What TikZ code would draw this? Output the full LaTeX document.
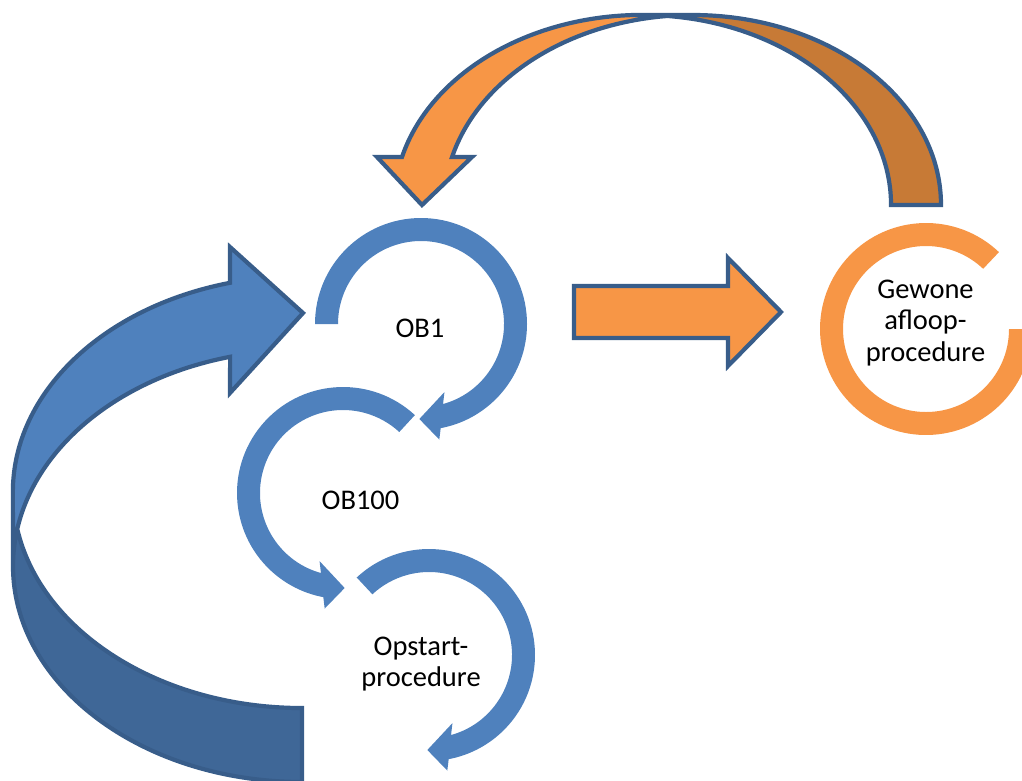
\documentclass[tikz,border=0pt]{standalone}
\usepackage{fontspec}
\setmainfont{Carlito}
\definecolor{cycleblue}{HTML}{4F81BD}
\definecolor{backblue}{HTML}{3F6797}
\definecolor{floworange}{HTML}{F79646}
\definecolor{backorange}{HTML}{C77A36}
\definecolor{rim}{HTML}{385D8A}
\tikzset{
  ring/.style={fill=cycleblue},
  loopring/.style={fill=floworange},
  rimline/.style={draw=rim, line width=4.2pt, line join=miter, miter limit=8},
  caption/.style={font=\fontsize{28.5}{31.5}\selectfont, align=center, inner sep=0pt, text=black}
}
\begin{document}
\begin{tikzpicture}[x=1pt, y=-1pt]
\useasboundingbox (0,0) rectangle (1022,780);
\clip (0,0) rectangle (1022,780);

% centres of the cycle rings
\coordinate (c-ob1) at (421,324);
\coordinate (c-ob100) at (343,493);
\coordinate (c-start) at (429,655);
\coordinate (c-run) at (926,329);

% OB1: clockwise ring from the left, head at the bottom
\fill[ring, shift={(c-ob1)}] (180:106) arc[start angle=180, end angle=439.3, radius=106]
  -- (441:117) -- (451:95) -- (431:72) -- (434.6:83)
  arc[start angle=434.6, end angle=180, radius=83] -- cycle;

% OB100: anticlockwise ring, head at the bottom
\fill[ring, shift={(c-ob100)}] (-47.3:106) arc[start angle=-47.3, end angle=-259.3, radius=106]
  -- (-261:117) -- (-271:95) -- (-251:72) -- (-254.6:83)
  arc[start angle=-254.6, end angle=-47.3, radius=83] -- cycle;

% start-up ring: clockwise, head at the bottom
\fill[ring, shift={(c-start)}] (227:106) arc[start angle=227, end angle=439.3, radius=106]
  -- (441:117) -- (451:95) -- (431:72) -- (434.6:83)
  arc[start angle=434.6, end angle=227, radius=83] -- cycle;

% normal run ring (orange)
\fill[loopring, shift={(c-run)}] (-46.5:106) arc[start angle=-46.5, end angle=-360, radius=106]
  -- (0:83) arc[start angle=-360, end angle=-46.5, radius=83] -- cycle;

% straight arrow OB1 -> normal run
\path[fill=floworange, rimline] (574,286) -- (728,286) -- (728,258) -- (781,312)
  -- (728,366) -- (728,338) -- (574,338) -- cycle;

% curved return arrow over the top (front face, back face, outline)
\fill[floworange] (692.5,15) arc[start angle=270, end angle=194.6, x radius=248.5, y radius=190]
  -- (472,157) -- (422,205) -- (377,157) -- (402,157)
  arc[start angle=194.6, end angle=270, x radius=248.5, y radius=190] -- cycle;
\fill[backorange] (891,205) arc[start angle=360, end angle=275.77, x radius=248.5, y radius=190]
  arc[start angle=264.23, end angle=360, x radius=248.5, y radius=190] -- cycle;
\draw[rimline] (667.5,15.96) arc[start angle=275.77, end angle=360, x radius=248.5, y radius=190]
  -- (941,205) arc[start angle=0, end angle=-165.4, x radius=248.5, y radius=190]
  -- (472,157) -- (422,205) -- (377,157) -- (402,157)
  arc[start angle=194.6, end angle=270, x radius=248.5, y radius=190] -- (692.5,15);

% big curved arrow on the left (front face, back face, outline)
\fill[cycleblue] (13,492) arc[start angle=180, end angle=255.6, x radius=289, y radius=216]
  -- (230,247) -- (303,313) -- (230,393) -- (230,356.8)
  arc[start angle=255.6, end angle=180, x radius=289, y radius=216] -- cycle;
\fill[backblue] (17.27,529) arc[start angle=189.86, end angle=90, x radius=289, y radius=216]
  -- (302,708) arc[start angle=90, end angle=170.14, x radius=289, y radius=216] -- cycle;
\draw[rimline] (17.27,529) arc[start angle=170.14, end angle=90, x radius=289, y radius=216]
  -- (302,782) arc[start angle=90, end angle=255.6, x radius=289, y radius=216]
  -- (230,393) -- (303,313) -- (230,247) -- (230,282.8)
  arc[start angle=255.6, end angle=180, x radius=289, y radius=216] -- (13,566);

% labels (base anchor sits on the last line)
\node[caption, anchor=base] (ob1) at (420,337) {OB1};
\node[caption, anchor=base] (ob100) at (360.5,509) {OB100};
\node[caption, anchor=base] (startup) at (421,686.5) {Opstart-\\procedure};
\node[caption, anchor=base] (run) at (925.5,361) {Gewone\\afloop-\\procedure};
\end{tikzpicture}
\end{document}
